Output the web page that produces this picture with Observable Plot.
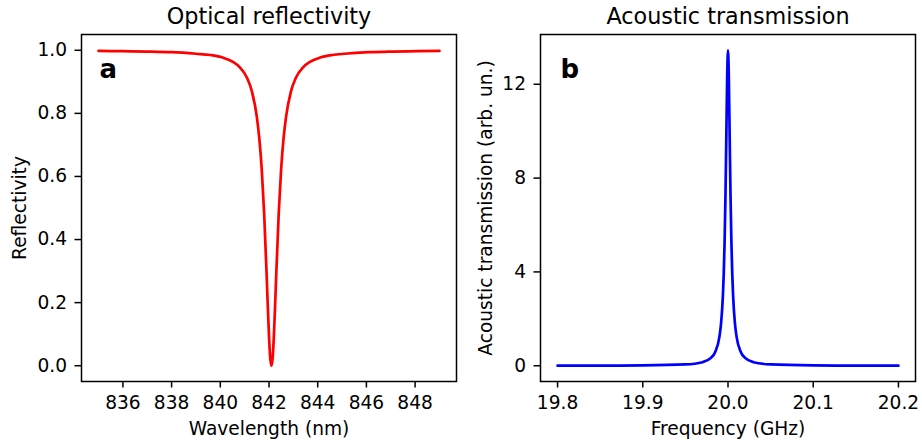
<!DOCTYPE html>
<html>
<head>
<meta charset="utf-8">
<script src="https://cdn.jsdelivr.net/npm/d3@7"></script>
<script src="https://cdn.jsdelivr.net/npm/@observablehq/plot@0.6"></script>
<style>
  html, body { margin: 0; padding: 0; background: #fff; }
  #chart { position: relative; width: 922px; height: 445px; background: #fff; }
  #chart svg { position: absolute; top: 0; }
</style>
</head>
<body>
<div id="chart"></div>
<script>
// ---- Panel a: optical reflectivity ----
const wavelength = [835, 836, 837, 838, 839, 839.6, 840.1, 840.5, 840.8, 841.1, 841.3, 841.5, 841.6, 841.7, 841.8, 841.9, 841.95, 842.0, 842.05, 842.1,
  842.15, 842.2, 842.25, 842.3, 842.4, 842.5, 842.6, 842.7, 842.9, 843.1, 843.4, 843.7, 844.1, 844.6, 845.1, 846.1, 847.1, 848.1, 849];
const reflectivity = [0.998, 0.997, 0.996, 0.994, 0.989, 0.985, 0.977, 0.964, 0.946, 0.912, 0.869, 0.789, 0.722, 0.625, 0.484, 0.294, 0.19, 0.094, 0.025, 0.0,
  0.025, 0.094, 0.19, 0.294, 0.484, 0.625, 0.722, 0.789, 0.869, 0.912, 0.946, 0.964, 0.977, 0.985, 0.989, 0.994, 0.996, 0.997, 0.998];
const reflTicksX = [836, 838, 840, 842, 844, 846, 848];
const reflTicksY = [0.0, 0.2, 0.4, 0.6, 0.8, 1.0];

// ---- Panel b: acoustic transmission ----
const frequency = [19.8, 19.85, 19.9, 19.95, 19.97, 19.98, 19.985, 19.99, 19.992, 19.994, 19.995, 19.996, 19.997, 19.998, 19.999, 20.0,
  20.001, 20.002, 20.003, 20.004, 20.005, 20.006, 20.008, 20.01, 20.015, 20.02, 20.03, 20.05, 20.1, 20.15, 20.2];
const transmission = [0.003, 0.006, 0.014, 0.055, 0.151, 0.336, 0.586, 1.25, 1.86, 2.98, 3.91, 5.25, 7.16, 9.67, 12.25, 13.45,
  12.25, 9.67, 7.16, 5.25, 3.91, 2.98, 1.86, 1.25, 0.586, 0.336, 0.151, 0.055, 0.014, 0.006, 0.003];
const acTicksX = [19.8, 19.9, 20.0, 20.1, 20.2];
const acTicksY = [0, 4, 8, 12];

const reflData = wavelength.map((x, i) => ({x, y: reflectivity[i]}));
const acData = frequency.map((x, i) => ({x, y: transmission[i]}));

const FONT = "DejaVu Sans";
const TICK = 18.6, TITLE = 22.3, PANEL = 26;

function panel({data, xDomain, yDomain, xTicks, yTicks, xFmt, yFmt, color, title, xLabel, yLabel, tag, ml, mr, left, yLabelDx, tagDx}) {
  const svg = Plot.plot({
    width: 461, height: 445,
    marginLeft: ml, marginRight: mr, marginTop: 34, marginBottom: 64,
    style: {fontFamily: FONT, fontSize: TICK + "px", color: "#000", background: "transparent", overflow: "visible"},
    x: {domain: xDomain},
    y: {domain: yDomain},
    marks: [
      Plot.line(data, {x: "x", y: "y", stroke: color, strokeWidth: 2.7, curve: "monotone-x"}),
      Plot.frame({stroke: "#000", strokeWidth: 1.5}),
      Plot.axisX({ticks: xTicks, tickFormat: xFmt, tickSize: 6.5, tickPadding: 8, strokeWidth: 1.5, label: null, fontSize: TICK}),
      Plot.axisY({ticks: yTicks, tickFormat: yFmt, tickSize: 6.5, tickPadding: 8, strokeWidth: 1.5, label: null, fontSize: TICK}),
      Plot.text([title], {frameAnchor: "top", dy: -17.6, textAnchor: "middle", lineAnchor: "middle", fontSize: TITLE, text: d => d}),
      Plot.text([xLabel], {frameAnchor: "bottom", dy: 48, textAnchor: "middle", lineAnchor: "middle", fontSize: TICK, text: d => d}),
      Plot.text([yLabel], {frameAnchor: "left", dx: yLabelDx, rotate: -90, textAnchor: "middle", lineAnchor: "middle", fontSize: TICK, text: d => d}),
      Plot.text([tag], {frameAnchor: "top-left", dx: tagDx, dy: 34.7, textAnchor: "start", lineAnchor: "middle", fontSize: PANEL, fontWeight: "bold", text: d => d})
    ]
  });
  svg.style.left = left + "px";
  return svg;
}

const chart = document.getElementById("chart");
chart.appendChild(panel({
  data: reflData, xDomain: [834.3, 849.7], yDomain: [-0.05, 1.05],
  xTicks: reflTicksX, yTicks: reflTicksY, xFmt: d => String(d), yFmt: d3.format(".1f"),
  color: "#ff0000", title: "Optical reflectivity", xLabel: "Wavelength (nm)", yLabel: "Reflectivity", tag: "a",
  ml: 81, mr: 5, left: 0, yLabelDx: -61.5, tagDx: 18
}));
chart.appendChild(panel({
  data: acData, xDomain: [19.78, 20.22], yDomain: [-0.6725, 14.1225],
  xTicks: acTicksX, yTicks: acTicksY, xFmt: d3.format(".1f"), yFmt: d => String(d),
  color: "#0000ff", title: "Acoustic transmission", xLabel: "Frequency (GHz)", yLabel: "Acoustic transmission (arb. un.)", tag: "b",
  ml: 79, mr: 7, left: 461, yLabelDx: -54.7, tagDx: 20
}));
</script>
</body>
</html>
